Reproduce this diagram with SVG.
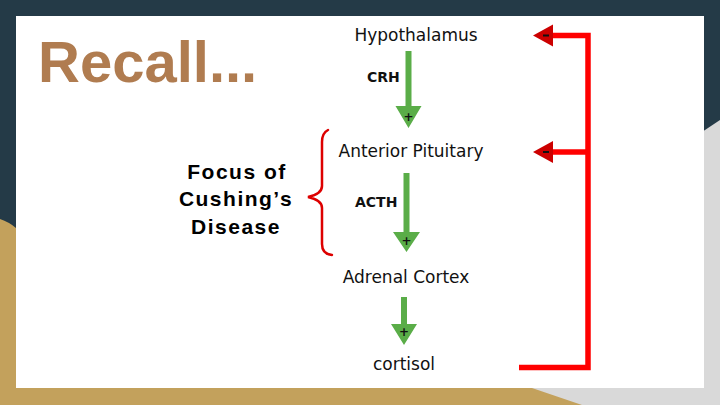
<svg xmlns="http://www.w3.org/2000/svg" width="720" height="405" viewBox="0 0 720 405">
<style>
.lbl{font-family:"DejaVu Sans",Verdana,sans-serif;font-size:17px;fill:#111;text-anchor:middle}
.hormone{font-family:"DejaVu Sans",Verdana,sans-serif;font-size:14px;font-weight:bold;fill:#111}
.plus{font-family:"DejaVu Sans",Verdana,sans-serif;font-size:12px;font-weight:bold;fill:#111;text-anchor:middle}
.focus{font-family:"Liberation Sans",Arial,sans-serif;font-size:21px;font-weight:bold;fill:#000;text-anchor:middle;letter-spacing:1.5px}
.garrow{fill:#5aad48}
.fb{fill:none;stroke:#ff0000;stroke-width:5.5}
.fbhead{fill:#cc0000}
</style>
<rect width="720" height="405" fill="#243a47"/>
<path d="M600,200 L720,120 L720,405 L480,405 Z" fill="#d9d9d9"/>
<path d="M0,219 Q9,222 16,228 L532,388 L582,405 L0,405 Z" fill="#c3a15c"/>
<rect x="16" y="16" width="688" height="372" fill="#ffffff"/>
<text x="38" y="82" font-family="Liberation Sans, Arial, sans-serif" font-size="58" font-weight="bold" fill="#b07c50">Recall...</text>
<g id="focus">
<text class="focus" x="237" y="179">Focus of</text>
<text class="focus" x="236" y="206">Cushing’s</text>
<text class="focus" x="236" y="234">Disease</text>
<path d="M328,130 Q322,133 322,142 L322,186 Q322,194 308,197 Q322,200 322,208 L322,244 Q322,254 332,255" fill="none" stroke="#dd0000" stroke-width="2.5" stroke-linecap="round"/>
</g>
<g id="hypothalamus"><text class="lbl" x="416" y="41">Hypothalamus</text></g>
<g id="anterior-pituitary"><text class="lbl" x="411" y="157">Anterior Pituitary</text></g>
<g id="adrenal-cortex"><text class="lbl" x="406" y="283">Adrenal Cortex</text></g>
<g id="cortisol"><text class="lbl" x="404" y="370">cortisol</text></g>
<g id="connectors">
<path class="garrow" d="M405.5,51 H411.5 V106 H421.5 L408.5,128 L395.5,106 H405.5 Z"/>
<text class="plus" x="408.5" y="121">+</text>
<text class="hormone" x="367" y="82">CRH</text>
<path class="garrow" d="M403.5,173 H409.5 V232 H420 L406.5,252 L393,232 H403.5 Z"/>
<text class="plus" x="406.5" y="245">+</text>
<text class="hormone" x="355" y="207">ACTH</text>
<path class="garrow" d="M401,297 H407 V324 H417 L404,345 L391,324 H401 Z"/>
<text class="plus" x="404" y="336">+</text>
<path class="fb" d="M519,367.5 H588 V35.5 H552"/>
<path class="fb" d="M588,152 H552"/>
<path class="fbhead" d="M533,35.5 L553,24.5 L553,46.5 Z"/>
<path class="fbhead" d="M533,152 L553,141 L553,163 Z"/>
<rect x="543" y="34.5" width="6" height="2" fill="#111"/>
<rect x="543" y="151" width="6" height="2" fill="#111"/>
</g>
</svg>
